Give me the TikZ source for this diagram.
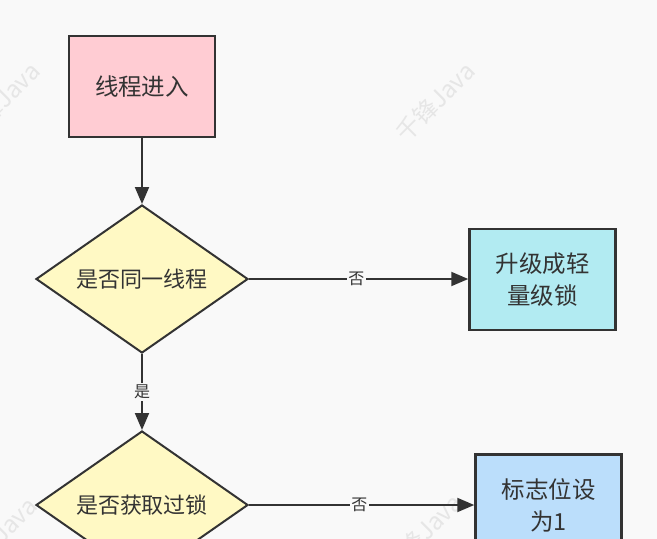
\documentclass[tikz,border=0pt]{standalone}
\usepackage{fontspec}
\setmainfont{Noto Sans CJK SC}
\usetikzlibrary{shapes.geometric,arrows.meta}
\definecolor{bg}{HTML}{F9F9F9}
\definecolor{ink}{HTML}{333333}
\definecolor{pinkf}{HTML}{FFCCD3}
\definecolor{yelf}{HTML}{FFF9C4}
\definecolor{cyanf}{HTML}{B2EBF2}
\definecolor{bluef}{HTML}{BBDEFB}
\definecolor{wm}{HTML}{E6E6E6}
\tikzset{
  boxnode/.style={draw=ink, line width=2.5pt, minimum width=146pt, minimum height=101pt, inner sep=0pt, align=center, text=ink, font=\fontsize{23.5}{32}\selectfont},
  decnode/.style={diamond, draw=ink, line width=2pt, fill=yelf, minimum width=212pt, minimum height=148pt, shape aspect=1.43, inner sep=0pt, text=ink, font=\fontsize{22}{26}\selectfont},
  conn/.style={draw=ink, line width=2pt, -{Triangle[length=17pt,width=14pt]}},
  lab/.style={fill=bg, text=ink, inner sep=1.5pt, font=\fontsize{16}{18}\selectfont},
  wmark/.style={text=wm, rotate=45, font=\fontsize{24}{26}\selectfont}
}
\begin{document}
\begin{tikzpicture}[x=1pt,y=-1pt]
\useasboundingbox (0,0) rectangle (657,539);
\clip (0,0) rectangle (657,539);
\fill[bg] (0,0) rectangle (657,539);
\node[wmark] (w1) at (0,102) {千锋Java};
\node[wmark] (w2) at (435,102) {千锋Java};
\node[wmark] (w3) at (-3,537) {千锋Java};
\node[wmark] (w4) at (422,534) {千锋Java};
\node[boxnode, fill=pinkf] (start) at (142,86.5) {线程进入};
\node[decnode] (d1) at (142,279) {是否同一线程};
\node[decnode] (d2) at (142,505) {是否获取过锁};
\node[boxnode, fill=cyanf] (up) at (542.5,279.5) {升级成轻\\量级锁};
\node[boxnode, fill=bluef] (flag) at (548.5,505) {标志位设\\为1};
\draw[conn] (start) -- (d1);
\draw[conn] (d1) -- node[lab, pos=0.5] (l1) {是} (d2);
\draw[conn] (d1.east) -- node[lab, pos=0.49] (l2) {否} (d1.east -| up.west);
\draw[conn] (d2.east) -- node[lab, pos=0.49] (l3) {否} (d2.east -| flag.west);
\end{tikzpicture}
\end{document}
